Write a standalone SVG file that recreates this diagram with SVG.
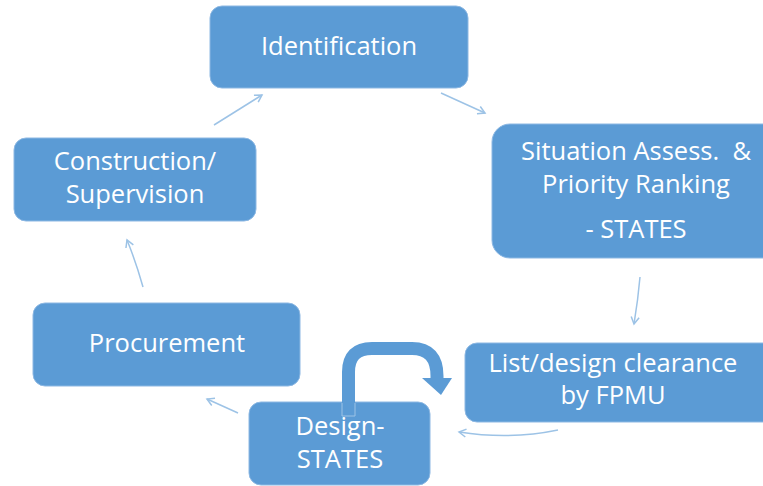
<svg xmlns="http://www.w3.org/2000/svg" width="763" height="486" viewBox="0 0 763 486">
<defs>
<style>
.box{fill:#5B9BD5;stroke:#8DB8E3;stroke-width:1}
.t{font-family:"Open Sans","Liberation Sans",sans-serif;font-size:25.5px;fill:#FFFFFF;text-anchor:middle;white-space:pre}
.c{fill:none;stroke:#9DC3E6;stroke-width:1.5}
</style>
<marker id="ah" markerWidth="10" markerHeight="10" refX="8" refY="5" orient="auto" markerUnits="userSpaceOnUse">
<path d="M1,1 L8,5 L1,9" fill="none" stroke="#9DC3E6" stroke-width="1.5"/>
</marker>
</defs>
<rect width="763" height="486" fill="#FFFFFF"/>
<g id="identification">
<rect class="box" x="210" y="6" width="258" height="82" rx="12"/>
<text class="t" x="339" y="55">Identification</text>
</g>
<g id="situation">
<rect class="box" x="492" y="124" width="290" height="134" rx="18"/>
<text class="t" x="636" y="160" xml:space="preserve">Situation Assess.  &amp;</text>
<text class="t" x="636" y="193">Priority Ranking</text>
<text class="t" x="636" y="238">- STATES</text>
</g>
<g id="list">
<rect class="box" x="465" y="343" width="310" height="79" rx="12"/>
<text class="t" x="613" y="372">List/design clearance</text>
<text class="t" x="613" y="404">by FPMU</text>
</g>
<g id="design">
<rect class="box" x="249" y="402" width="181" height="83" rx="12"/>
<text class="t" x="340" y="435">Design-</text>
<text class="t" x="340" y="468">STATES</text>
</g>
<g id="procurement">
<rect class="box" x="33" y="303" width="267" height="83" rx="12"/>
<text class="t" x="167" y="352">Procurement</text>
</g>
<g id="construction">
<rect class="box" x="14" y="138" width="242" height="83" rx="12"/>
<text class="t" x="135" y="170">Construction/</text>
<text class="t" x="135" y="203">Supervision</text>
</g>
<g id="connectors">
<path class="c" d="M214,125 L262,95" marker-end="url(#ah)"/>
<path class="c" d="M441,93 L485,113" marker-end="url(#ah)"/>
<path class="c" d="M640,277 Q638,300 634,324" marker-end="url(#ah)"/>
<path class="c" d="M558,430 Q510,440 459,432" marker-end="url(#ah)"/>
<path class="c" d="M238,413 L207,399" marker-end="url(#ah)"/>
<path class="c" d="M143,287 Q136,262 127,240" marker-end="url(#ah)"/>
<g id="self-loop">
<path d="M348.5,416 L348.5,372 Q348.5,348.5 372,348.5 L412,348.5 Q437,348.5 437,376 L437,380" fill="none" stroke="#5B9BD5" stroke-width="13"/>
<path d="M342,403 L342,416 L355,416 L355,403" fill="none" stroke="#9DC3E6" stroke-width="1"/>
<polygon points="422,378 452,378 441,395" fill="#5B9BD5"/>
</g>
</g>
</svg>
